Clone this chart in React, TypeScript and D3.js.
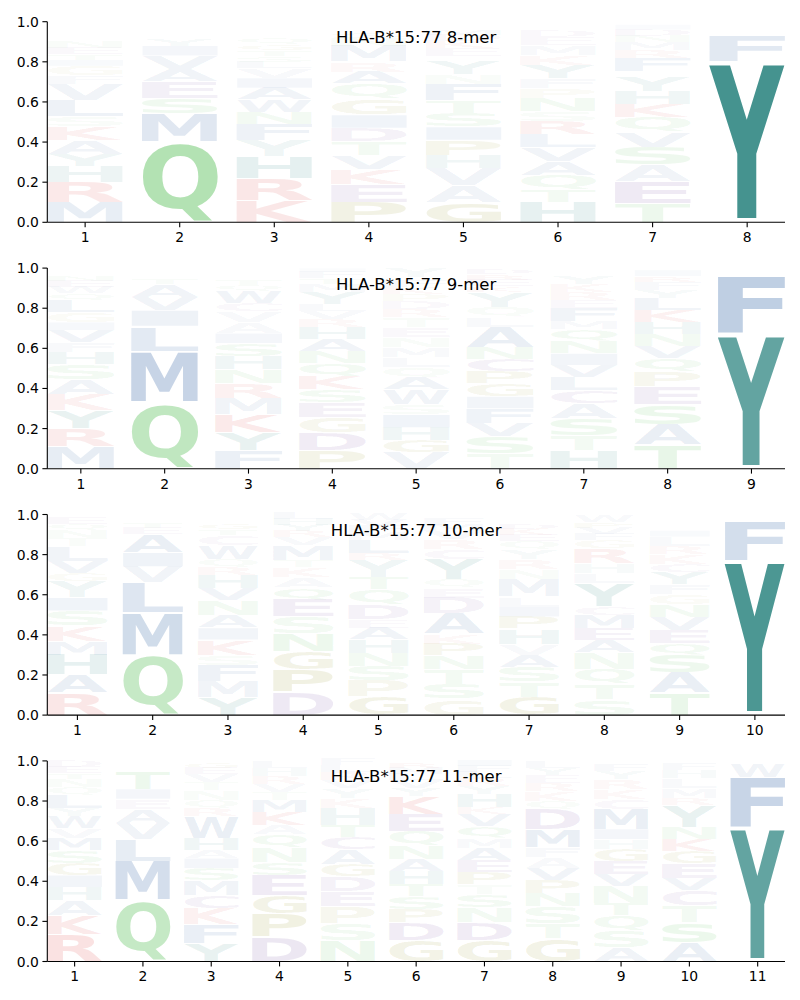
import React, { useMemo } from "react";
import * as d3 from "d3";

type Cell = [string, number];

const titles = [
  "HLA-B*15:77 8-mer",
  "HLA-B*15:77 9-mer",
  "HLA-B*15:77 10-mer",
  "HLA-B*15:77 11-mer",
];

const yTicks = [0, 0.2, 0.4, 0.6, 0.8, 1.0];

// stacks listed bottom -> top
const mer8: Cell[][] = [
  [["M", .10], ["R", .10], ["H", .08], ["Y", .06], ["A", .07], ["K", .07], ["S", .05], ["L", .08], ["V", .08], ["F", .04], ["G", .05], ["I", .03], ["T", .03], ["E", .03], ["N", .03], ["D", .02], ["Q", .02], ["W", .02], ["C", .02], ["P", .02]],
  [["Q", .40], ["M", .14], ["S", .08], ["E", .08], ["A", .065], ["V", .065], ["I", .05], ["Y", .03], ["F", .025], ["R", .02], ["C", .015], ["T", .01]],
  [["K", .11], ["R", .11], ["H", .11], ["Y", .08], ["F", .08], ["N", .06], ["W", .06], ["A", .06], ["I", .05], ["V", .05], ["L", .03], ["S", .03], ["T", .03], ["G", .03], ["Q", .03], ["E", .02], ["M", .02], ["D", .02], ["P", .02]],
  [["P", .10], ["E", .09], ["K", .075], ["V", .07], ["T", .07], ["D", .065], ["I", .065], ["G", .08], ["Q", .075], ["A", .06], ["R", .05], ["M", .08], ["N", .04], ["S", .03], ["Y", .02], ["F", .02]],
  [["G", .10], ["A", .085], ["V", .085], ["H", .065], ["P", .075], ["I", .065], ["S", .07], ["T", .065], ["F", .08], ["N", .05], ["Y", .065], ["R", .025], ["E", .04], ["K", .035], ["D", .03], ["M", .03], ["Q", .025]],
  [["H", .10], ["T", .06], ["Q", .075], ["A", .07], ["V", .07], ["L", .065], ["R", .065], ["S", .05], ["N", .065], ["P", .05], ["F", .05], ["Y", .065], ["K", .05], ["M", .05], ["E", .04], ["D", .03], ["W", .02], ["G", .02]],
  [["T", .095], ["E", .11], ["A", .08], ["S", .09], ["V", .075], ["Q", .075], ["K", .065], ["H", .065], ["Y", .075], ["G", .025], ["F", .065], ["R", .04], ["M", .04], ["N", .03], ["D", .03], ["I", .025], ["L", .02]],
  [["Y", .80], ["F", .13], ["W", .025], ["H", .015], ["L", .015], ["M", .015]],
];

const mer9: Cell[][] = [
  [["M", .11], ["R", .09], ["Y", .09], ["K", .08], ["A", .075], ["S", .075], ["H", .06], ["F", .05], ["V", .06], ["I", .04], ["G", .05], ["L", .06], ["Q", .035], ["W", .03], ["E", .03], ["N", .03], ["T", .02], ["D", .02]],
  [["Q", .33], ["M", .255], ["L", .125], ["I", .08], ["V", .065], ["A", .065], ["T", .03], ["E", .02], ["F", .02], ["R", .01]],
  [["F", .09], ["Y", .09], ["K", .09], ["M", .08], ["R", .075], ["N", .07], ["H", .065], ["S", .065], ["I", .05], ["A", .055], ["V", .055], ["C", .04], ["W", .06], ["Q", .03], ["T", .03], ["E", .02], ["G", .02], ["D", .01]],
  [["P", .09], ["D", .09], ["G", .075], ["E", .075], ["S", .065], ["K", .065], ["Q", .065], ["N", .06], ["A", .06], ["H", .06], ["R", .04], ["V", .04], ["L", .035], ["Y", .06], ["M", .04], ["T", .03], ["F", .03], ["I", .02]],
  [["V", .08], ["G", .06], ["H", .065], ["I", .065], ["S", .05], ["W", .075], ["A", .06], ["Q", .05], ["L", .05], ["M", .05], ["N", .05], ["E", .05], ["T", .05], ["R", .04], ["D", .04], ["P", .035], ["K", .035], ["F", .03], ["C", .02], ["Y", .045]],
  [["T", .075], ["S", .085], ["V", .065], ["F", .075], ["I", .06], ["G", .065], ["P", .06], ["C", .06], ["N", .06], ["A", .10], ["L", .05], ["Q", .05], ["Y", .075], ["K", .03], ["E", .03], ["R", .03], ["D", .03]],
  [["H", .09], ["T", .075], ["S", .085], ["A", .075], ["C", .065], ["L", .065], ["V", .06], ["I", .06], ["N", .06], ["Q", .06], ["M", .04], ["F", .065], ["E", .04], ["R", .04], ["K", .04], ["Y", .04], ["G", .02], ["D", .02]],
  [["T", .12], ["A", .10], ["S", .10], ["E", .09], ["P", .075], ["Q", .065], ["V", .06], ["N", .06], ["H", .06], ["K", .06], ["L", .06], ["Y", .04], ["F", .04], ["R", .03], ["I", .03], ["D", .02]],
  [["Y", .67], ["F", .29], ["W", .02], ["M", .01], ["L", .01]],
];

const mer10: Cell[][] = [
  [["R", .11], ["A", .09], ["H", .10], ["M", .07], ["K", .075], ["S", .075], ["I", .065], ["Y", .08], ["G", .04], ["V", .06], ["L", .075], ["T", .04], ["N", .04], ["Q", .03], ["E", .03], ["W", .02]],
  [["Q", .30], ["M", .21], ["L", .15], ["V", .08], ["I", .07], ["A", .09], ["E", .03], ["T", .03], ["F", .02], ["R", .01]],
  [["Y", .09], ["M", .08], ["F", .08], ["S", .05], ["K", .075], ["I", .06], ["A", .06], ["N", .075], ["V", .06], ["H", .065], ["R", .04], ["Q", .04], ["W", .07], ["C", .05], ["T", .03], ["G", .03], ["E", .02], ["D", .02]],
  [["D", .115], ["P", .11], ["G", .09], ["N", .09], ["S", .085], ["E", .085], ["Q", .06], ["A", .05], ["K", .05], ["T", .035], ["M", .075], ["V", .04], ["R", .03], ["Y", .03], ["H", .03], ["L", .03]],
  [["G", .09], ["P", .08], ["S", .075], ["N", .065], ["H", .065], ["A", .06], ["E", .04], ["D", .075], ["Q", .075], ["T", .06], ["Y", .085], ["R", .035], ["L", .065], ["M", .04], ["F", .03], ["V", .03], ["W", .03]],
  [["G", .08], ["S", .075], ["T", .075], ["N", .065], ["P", .06], ["K", .05], ["A", .10], ["D", .08], ["E", .05], ["Q", .04], ["Y", .10], ["C", .05], ["R", .05], ["V", .04], ["M", .03], ["F", .03], ["L", .02]],
  [["G", .09], ["T", .075], ["S", .075], ["A", .06], ["V", .055], ["H", .075], ["P", .06], ["I", .05], ["L", .05], ["M", .085], ["N", .05], ["R", .05], ["Y", .05], ["Q", .04], ["E", .03], ["K", .03], ["D", .03], ["W", .02], ["C", .025]],
  [["S", .08], ["T", .075], ["Q", .075], ["N", .08], ["A", .065], ["E", .06], ["M", .065], ["C", .04], ["Y", .115], ["L", .05], ["H", .05], ["R", .075], ["G", .04], ["F", .03], ["V", .03], ["P", .03], ["W", .03]],
  [["T", .11], ["A", .10], ["S", .09], ["Q", .06], ["E", .065], ["V", .065], ["N", .06], ["G", .05], ["F", .05], ["Y", .06], ["C", .04], ["K", .05], ["R", .04], ["L", .05], ["I", .03], ["H", .02], ["D", .02]],
  [["Y", .77], ["F", .20], ["W", .015], ["M", .015]],
];

const mer11: Cell[][] = [
  [["R", .135], ["K", .095], ["A", .075], ["H", .065], ["I", .06], ["G", .06], ["S", .065], ["M", .06], ["V", .05], ["W", .06], ["Y", .04], ["L", .065], ["Q", .04], ["N", .04], ["T", .03], ["E", .03], ["D", .03]],
  [["Q", .305], ["M", .195], ["L", .11], ["V", .08], ["A", .07], ["E", .05], ["I", .05], ["T", .09], ["R", .02], ["F", .02]],
  [["Y", .09], ["F", .095], ["K", .08], ["C", .065], ["M", .075], ["S", .06], ["I", .05], ["A", .04], ["H", .06], ["W", .11], ["R", .04], ["Q", .04], ["N", .05], ["T", .04], ["V", .04], ["E", .03], ["G", .03]],
  [["D", .125], ["P", .115], ["G", .09], ["E", .10], ["S", .065], ["N", .075], ["Q", .065], ["A", .045], ["K", .065], ["M", .06], ["T", .04], ["V", .04], ["R", .04], ["H", .04], ["L", .035]],
  [["N", .105], ["S", .085], ["P", .085], ["E", .075], ["D", .075], ["G", .06], ["A", .075], ["C", .06], ["T", .06], ["H", .085], ["K", .05], ["Y", .05], ["V", .04], ["R", .04], ["L", .035], ["F", .03]],
  [["G", .105], ["D", .09], ["P", .065], ["S", .065], ["T", .06], ["H", .065], ["A", .06], ["N", .065], ["Q", .075], ["E", .085], ["K", .09], ["Y", .04], ["V", .04], ["L", .03], ["M", .03], ["R", .03]],
  [["G", .105], ["D", .09], ["N", .075], ["S", .065], ["T", .05], ["P", .06], ["E", .06], ["A", .06], ["M", .05], ["Q", .06], ["V", .06], ["K", .035], ["H", .065], ["Y", .04], ["R", .04], ["L", .03], ["F", .03], ["I", .03]],
  [["G", .115], ["T", .075], ["S", .085], ["N", .065], ["P", .065], ["V", .06], ["A", .055], ["F", .05], ["M", .09], ["D", .10], ["Q", .04], ["K", .05], ["R", .04], ["E", .04], ["Y", .035], ["L", .03]],
  [["A", .07], ["S", .085], ["Q", .075], ["T", .06], ["N", .085], ["V", .06], ["E", .065], ["G", .06], ["H", .05], ["I", .05], ["M", .10], ["C", .05], ["K", .05], ["R", .05], ["Y", .04], ["F", .03], ["L", .025]],
  [["A", .095], ["S", .10], ["T", .085], ["C", .075], ["V", .06], ["E", .075], ["G", .06], ["K", .06], ["N", .06], ["Y", .11], ["R", .035], ["M", .05], ["L", .05], ["H", .04], ["F", .03], ["Q", .025]],
  [["Y", .67], ["F", .25], ["W", .07], ["M", .01]],
];

const panelData = [mer8, mer9, mer10, mer11];

const letterColor: Record<string, string> = {
  A: "#22589e", V: "#22589e", L: "#22589e", I: "#22589e", M: "#22589e", F: "#22589e", W: "#22589e",
  Y: "#167873", H: "#167873",
  Q: "#41b641", N: "#41b641", S: "#41b641", T: "#41b641",
  K: "#d62728", R: "#d62728",
  D: "#6a3d9a", E: "#6a3d9a", C: "#6a3d9a",
  G: "#808000", P: "#808000",
};

const LEFT = 47.3;
const RIGHT = 785;
const TOP0 = 21.7;
const PH = 200.6;
const STEP = 246.4;
const LW = 0.8;
const VPAD = 0.05;
const FONT = "DejaVu Sans";

type M = { l: number; r: number; a: number; d: number };

function measureLetters(): Record<string, M> {
  const out: Record<string, M> = {};
  const cv = document.createElement("canvas");
  const ctx = cv.getContext("2d")!;
  ctx.font = `bold 100px "${FONT}"`;
  for (const ch of Object.keys(letterColor)) {
    const m = ctx.measureText(ch);
    out[ch] = {
      l: m.actualBoundingBoxLeft,
      r: m.actualBoundingBoxRight,
      a: m.actualBoundingBoxAscent,
      d: m.actualBoundingBoxDescent,
    };
  }
  return out;
}

export default function App() {
  const metrics = useMemo(measureLetters, []);
  return (
    <svg width={800} height={1000} style={{ position: "absolute", left: 0, top: 0, background: "#fff" }}
      fontFamily={FONT}>
      <rect x={0} y={0} width={800} height={1000} fill="#fff" />
      {panelData.map((data, pi) => {
        const n = data.length;
        const top = TOP0 + pi * STEP;
        const bottom = top + PH;
        const xs = d3.scaleLinear().domain([0.6, n + 0.4]).range([LEFT, RIGHT]);
        const ys = d3.scaleLinear().domain([0, 1]).range([bottom, top]);
        const unit = xs(2) - xs(1);
        const positions = d3.range(1, n + 1);
        return (
          <g key={pi}>
            {data.map((stack, si) => {
              let cum = 0;
              return stack.map(([ch, v], li) => {
                const y1 = ys(cum);
                const y2 = ys(cum + v);
                cum += v;
                const m = metrics[ch];
                const gw = m.l + m.r;
                const gh = m.a + m.d;
                const bh = (y1 - y2);
                const pad = bh * VPAD / 2;
                const bw = unit * LW;
                const x0 = xs(si + 1) - bw / 2;
                const sx = bw / gw;
                const sy = (bh - 2 * pad) / gh;
                const alpha = Math.min(1, v);
                return (
                  <g key={li} transform={`translate(${x0},${y2 + pad}) scale(${sx},${sy})`}>
                    <text x={m.l} y={m.a} fontSize={100} fontWeight="bold" fontFamily={FONT}
                      fill={letterColor[ch]} fillOpacity={alpha}>{ch}</text>
                  </g>
                );
              });
            })}
            <line x1={LEFT} x2={LEFT} y1={top} y2={bottom} stroke="#000" strokeWidth={1.1} />
            <line x1={LEFT} x2={RIGHT} y1={bottom} y2={bottom} stroke="#000" strokeWidth={1.1} />
            {yTicks.map((t) => (
              <g key={t}>
                <line x1={LEFT - 4.9} x2={LEFT} y1={ys(t)} y2={ys(t)} stroke="#000" strokeWidth={1.1} />
                <text x={LEFT - 8.4} y={ys(t)} dy="0.36em" textAnchor="end" fontSize={13.9} fill="#000">
                  {t.toFixed(1)}
                </text>
              </g>
            ))}
            {positions.map((p) => (
              <g key={p}>
                <line x1={xs(p)} x2={xs(p)} y1={bottom} y2={bottom + 4.9} stroke="#000" strokeWidth={1.1} />
                <text x={xs(p)} y={bottom + 19.9} textAnchor="middle" fontSize={13.9} fill="#000">{p}</text>
              </g>
            ))}
            <text x={(LEFT + RIGHT) / 2} y={top + 21.5} textAnchor="middle" fontSize={16.5} fill="#000">
              {titles[pi]}
            </text>
          </g>
        );
      })}
    </svg>
  );
}
